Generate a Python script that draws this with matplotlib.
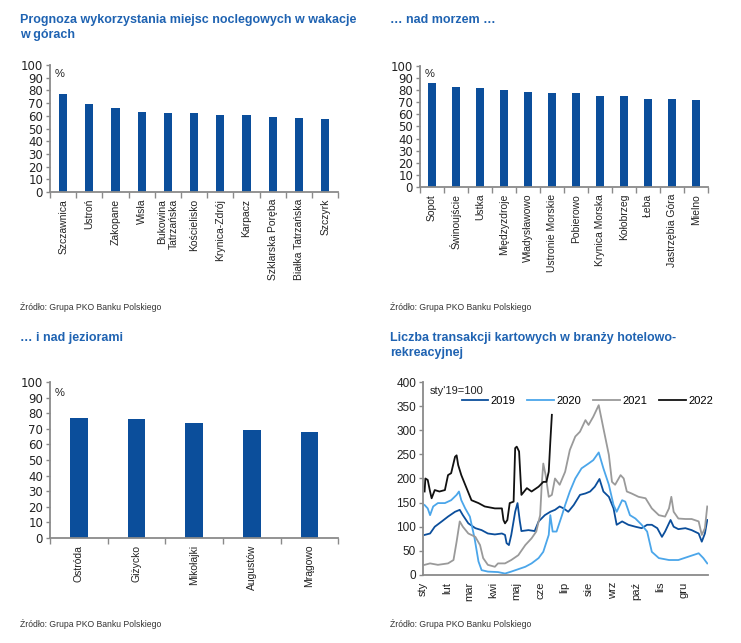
import matplotlib
matplotlib.use('Agg')
import matplotlib.pyplot as plt
import numpy as np

plt.rcParams['font.family'] = ['Liberation Sans', 'DejaVu Sans']

BAR = '#0b4e9b'
TITLE = '#1f63b2'
SPINE = '#8a8a8a'

# --- bar data (%)
mountain_names = ['Szczawnica', 'Ustroń', 'Zakopane', 'Wisła', 'Bukowina\nTatrzańska', 'Kościelisko',
                  'Krynica-Zdrój', 'Karpacz', 'Szklarska Poręba', 'Białka Tatrzańska', 'Szczyrk']
mountain_vals = [77, 69, 66.5, 63.3, 62, 62, 61, 61, 59, 58.3, 57.3]

sea_names = ['Sopot', 'Świnoujście', 'Ustka', 'Międzyzdroje', 'Władysławowo', 'Ustronie Morskie',
             'Pobierowo', 'Krynica Morska', 'Kołobrzeg', 'Łeba', 'Jastrzębia Góra', 'Mielno']
sea_vals = [86, 82.7, 82, 80.5, 78.6, 78, 77.8, 74.8, 74.8, 72.9, 72.3, 72]

lake_names = ['Ostróda', 'Giżycko', 'Mikołajki', 'Augustów', 'Mrągowo']
lake_vals = [77, 76, 73.8, 69.3, 67.8]

# --- card transactions, sty'19=100, x = day of year
days_2019 = [2, 9, 15, 24, 32, 41, 47, 51, 58, 67, 75, 83, 92, 101, 105, 107, 110, 113, 118, 121,
             124, 126, 135, 143, 148, 156, 163, 169, 175, 180, 186, 193, 201, 208, 214, 220, 226, 231, 238, 244,
             248, 255, 263, 272, 280, 287, 293, 300, 306, 310, 317, 321, 327, 336, 344, 353, 357, 361, 364]
vals_2019 = [83, 86, 100, 111, 121, 131, 135, 124, 107, 97, 93, 86, 84, 86, 83, 66, 62, 83, 131, 149,
             111, 91, 93, 91, 111, 124, 131, 135, 142, 138, 131, 145, 166, 169, 173, 183, 199, 173, 162, 138,
             104, 111, 104, 100, 97, 104, 104, 97, 79, 90, 114, 100, 95, 97, 93, 86, 69, 86, 114]

days_2020 = [2, 6, 9, 13, 19, 28, 36, 43, 46, 49, 54, 60, 66, 71, 75, 83, 96, 105, 113, 122,
             131, 139, 148, 154, 161, 163, 166, 171, 178, 182, 188, 195, 203, 212, 218, 225, 231, 238, 244, 248,
             255, 259, 265, 272, 280, 287, 293, 302, 315, 327, 340, 353, 359, 364]
vals_2020 = [145, 138, 124, 142, 149, 149, 155, 166, 173, 155, 138, 121, 76, 28, 10, 7, 6, 3, 7, 12,
             17, 24, 35, 48, 83, 124, 90, 90, 124, 145, 173, 200, 221, 231, 238, 254, 221, 187, 145, 131,
             155, 152, 124, 117, 104, 90, 48, 35, 31, 31, 38, 45, 35, 24]

days_2021 = [2, 9, 19, 32, 39, 43, 47, 51, 58, 67, 73, 77, 83, 92, 96, 105, 113, 122, 131, 139,
             145, 150, 152, 154, 157, 161, 165, 169, 175, 182, 188, 195, 201, 208, 212, 218, 225, 231, 238, 242,
             246, 253, 257, 261, 267, 276, 285, 293, 302, 310, 315, 318, 321, 327, 336, 344, 353, 357, 361, 364]
vals_2021 = [21, 24, 21, 24, 31, 69, 111, 100, 86, 79, 62, 35, 21, 17, 24, 24, 31, 41, 62, 76,
             90, 124, 187, 231, 207, 162, 166, 200, 187, 214, 259, 287, 297, 321, 311, 328, 352, 304, 249, 193,
             187, 207, 200, 173, 169, 162, 159, 138, 124, 121, 138, 162, 131, 117, 116, 116, 111, 83, 97, 142]

days_2022 = [2, 3, 6, 9, 11, 15, 21, 28, 32, 36, 41, 43, 45, 49, 54, 62, 71, 79, 92, 101,
             103, 105, 108, 111, 116, 118, 120, 123, 126, 133, 139, 148, 154, 158, 161, 163, 165]
vals_2022 = [173, 200, 197, 173, 159, 176, 173, 176, 207, 211, 245, 248, 228, 207, 187, 155, 149, 142, 138, 138,
             114, 107, 114, 149, 152, 263, 266, 256, 166, 180, 173, 183, 193, 193, 214, 276, 332]

month_starts = [0, 31, 59, 90, 120, 151, 181, 212, 243, 273, 304, 334]
month_labels = ['sty', 'lut', 'mar', 'kwi', 'maj', 'cze', 'lip', 'sie', 'wrz', 'paź', 'lis', 'gru']


def base_style(ax, ysize=8, yfamily=None):
    for s in ['top', 'right']:
        ax.spines[s].set_visible(False)
    for s in ['left', 'bottom']:
        ax.spines[s].set_color(SPINE)
        ax.spines[s].set_linewidth(1.3)
    ax.tick_params(axis='y', color=SPINE, labelcolor='#222222', length=3, width=1, labelsize=ysize, pad=2)
    if yfamily:
        for lab in ax.get_yticklabels():
            lab.set_family(yfamily)


def bar_panel(ax, names, vals):
    x = np.arange(len(names))
    ax.bar(x, vals, width=0.31, color=BAR)
    ax.set_xlim(-0.5, len(names) - 0.5)
    ax.set_ylim(0, 100)
    ax.set_yticks(range(0, 101, 10))
    ax.set_xticks(x)
    ax.set_xticklabels(names, rotation=90, va='top', ha='center', multialignment='right',
                       fontsize=7.5, color='#222222')
    ax.set_xticks(np.arange(-0.5, len(names)), minor=True)
    ax.tick_params(axis='x', which='major', length=0, pad=5)
    ax.tick_params(axis='x', which='minor', length=4, color=SPINE, width=1)
    base_style(ax, ysize=8.5, yfamily=['DejaVu Sans'])
    ax.text(0.015, 0.93, '%', transform=ax.transAxes, ha='left', va='center', fontsize=8, color='#222222')


fig = plt.figure(figsize=(7.41, 6.43), dpi=100)

ax1 = fig.add_axes([0.0675, 0.7014, 0.389, 0.1975])
bar_panel(ax1, mountain_names, mountain_vals)

ax2 = fig.add_axes([0.5668, 0.7092, 0.3887, 0.1882])
bar_panel(ax2, sea_names, sea_vals)

ax3 = fig.add_axes([0.0675, 0.1633, 0.389, 0.2426])
bar_panel(ax3, lake_names, lake_vals)

ax4 = fig.add_axes([0.5709, 0.1058, 0.3846, 0.3001])
ax4.plot(days_2019, vals_2019, color='#0b4e9b', lw=1.3, label='2019')
ax4.plot(days_2020, vals_2020, color='#4ba6ea', lw=1.3, label='2020')
ax4.plot(days_2021, vals_2021, color='#9a9a9a', lw=1.3, label='2021')
ax4.plot(days_2022, vals_2022, color='#111111', lw=1.3, label='2022')
ax4.set_xlim(0, 365)
ax4.set_ylim(0, 400)
ax4.set_yticks(range(0, 401, 50))
ax4.set_xticks(month_starts)
ax4.set_xticklabels(month_labels, rotation=90, va='top', ha='center', fontsize=8, color='#222222')
ax4.tick_params(axis='x', length=0, pad=5)
base_style(ax4, ysize=8.5)
ax4.text(0.023, 0.952, "sty'19=100", transform=ax4.transAxes, ha='left', va='center',
         fontsize=8, color='#222222')
ax4.legend(ncol=4, loc='center left', bbox_to_anchor=(0.135, 0.9025), frameon=False, fontsize=8,
           handlelength=2.4, handletextpad=0.2, columnspacing=1.1, borderpad=0, borderaxespad=0)

# titles and sources
fig.text(20 / 741, 1 - 14 / 643, 'Prognoza wykorzystania miejsc noclegowych w wakacje\nw górach',
         ha='left', va='top', fontsize=9, fontweight='bold', color=TITLE, linespacing=1.35)
fig.text(390 / 741, 1 - 14 / 643, '… nad morzem …',
         ha='left', va='top', fontsize=9, fontweight='bold', color=TITLE)
fig.text(20 / 741, 1 - 332 / 643, '… i nad jeziorami',
         ha='left', va='top', fontsize=9, fontweight='bold', color=TITLE)
fig.text(390 / 741, 1 - 332 / 643, 'Liczba transakcji kartowych w branży hotelowo-\nrekreacyjnej',
         ha='left', va='top', fontsize=9, fontweight='bold', color=TITLE, linespacing=1.35)

for x0, y0 in [(20, 307), (390, 307), (20, 624), (390, 624)]:
    fig.text(x0 / 741, 1 - y0 / 643, 'Źródło: Grupa PKO Banku Polskiego',
             ha='left', va='center', fontsize=6.2, color='#333333')

fig.savefig('out.png', dpi=100)
